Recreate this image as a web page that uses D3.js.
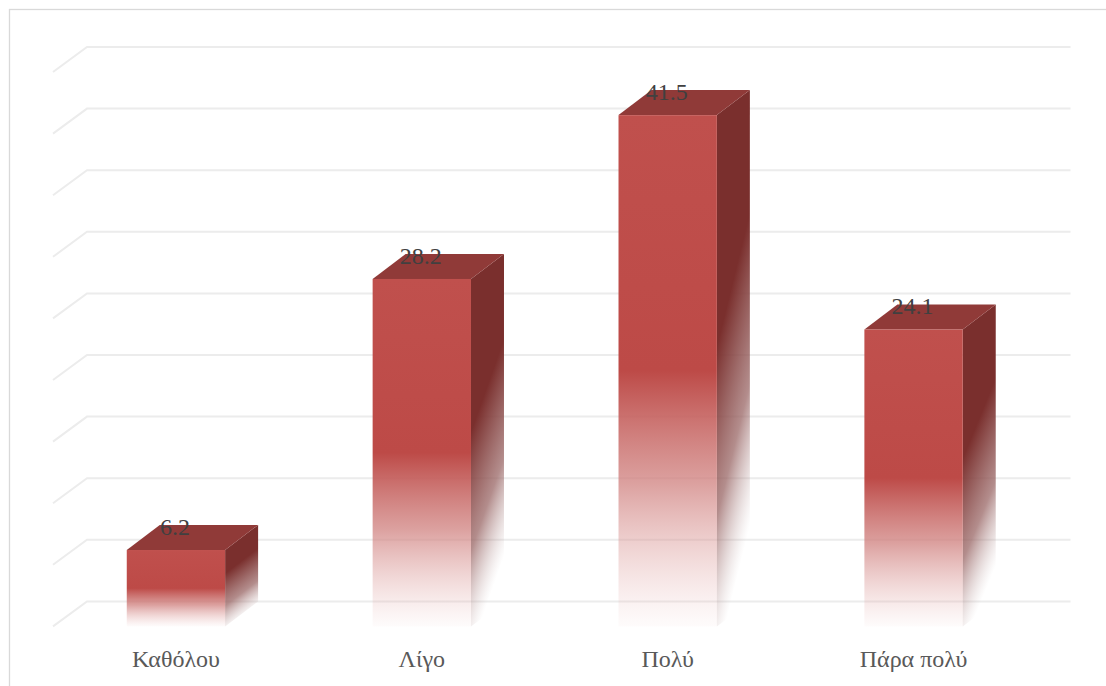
<!DOCTYPE html>
<html>
<head>
<meta charset="utf-8">
<script src="https://cdn.jsdelivr.net/npm/d3@7"></script>
<style>
  html, body { margin: 0; padding: 0; background: #fff; }
  svg { display: block; }
</style>
</head>
<body>
<svg id="chart" width="1106" height="686"></svg>
<script>
// Survey response shares (%) per answer category
const categories = ["Καθόλου", "Λίγο", "Πολύ", "Πάρα πολύ"];
const values = [6.2, 28.2, 41.5, 24.1];
const gridTicks = [0, 5, 10, 15, 20, 25, 30, 35, 40, 45];

const W = 1106, H = 686;
const depthX = 34, depthY = -25;      // 3-D depth offset of the back wall
const svg = d3.select("#chart");

const x = d3.scaleBand().domain(categories).range([53, 1036.5]).paddingInner(0.6).paddingOuter(0.3);
const y = d3.scaleLinear().domain([0, 45]).range([626.4, 72]);

// outer frame
svg.append("rect")
  .attr("x", 9.5).attr("y", 9.5)
  .attr("width", W).attr("height", H)
  .attr("fill", "none").attr("stroke", "#d9d9d9").attr("stroke-width", 1.3);

const defs = svg.append("defs");
const frontGrad = defs.append("linearGradient").attr("id", "frontGrad")
  .attr("x1", 0).attr("y1", 0).attr("x2", 0).attr("y2", 1);
[[0, "#c0504d", 1], [0.5, "#bd4a47", 1], [0.72, "#d0817f", 0.75], [1, "#e8b8b7", 0.05]]
  .forEach(([o, c, a]) => frontGrad.append("stop").attr("offset", o).attr("stop-color", c).attr("stop-opacity", a));

const sideGrad = defs.append("linearGradient").attr("id", "sideGrad")
  .attr("x1", 0).attr("y1", 0).attr("x2", 0.25).attr("y2", 1);
[[0, "#7a2f2d", 1], [0.45, "#7a2f2d", 1], [0.75, "#9a6766", 0.75], [1, "#c8b4b4", 0.0]]
  .forEach(([o, c, a]) => sideGrad.append("stop").attr("offset", o).attr("stop-color", c).attr("stop-opacity", a));

// gridlines on the back wall plus the left side wall
const grid = svg.append("g").attr("stroke", "#ececec").attr("stroke-width", 2).attr("fill", "none");
grid.selectAll("path").data(gridTicks).join("path")
  .attr("d", d => {
    const yf = y(d), x0 = x.range()[0], x1 = x.range()[1];
    return `M${x0},${yf}L${x0 + depthX},${yf + depthY}L${x1 + depthX},${yf + depthY}`;
  });

// bars
const bars = svg.append("g").selectAll("g").data(categories).join("g");
const bw = x.bandwidth();
const barDepthX = 33, barDepthY = -25;

bars.append("path") // right side face
  .attr("fill", "url(#sideGrad)")
  .attr("d", (c, i) => {
    const xr = x(c) + bw, yt = y(values[i]), yb = y(0);
    return `M${xr},${yt}L${xr + barDepthX},${yt + barDepthY}L${xr + barDepthX},${yb + barDepthY}L${xr},${yb}Z`;
  });

bars.append("path") // top face
  .attr("fill", "#903a38")
  .attr("d", (c, i) => {
    const xl = x(c), yt = y(values[i]);
    return `M${xl},${yt}L${xl + barDepthX},${yt + barDepthY}L${xl + bw + barDepthX},${yt + barDepthY}L${xl + bw},${yt}Z`;
  });

bars.append("rect") // front face
  .attr("x", c => x(c))
  .attr("y", (c, i) => y(values[i]))
  .attr("width", bw)
  .attr("height", (c, i) => y(0) - y(values[i]))
  .attr("fill", "url(#frontGrad)");

// value labels
bars.append("text")
  .attr("x", c => x(c) + bw / 2 - 1)
  .attr("y", (c, i) => y(values[i]) - 15)
  .attr("text-anchor", "middle")
  .attr("font-family", "'Liberation Serif', 'DejaVu Serif', serif")
  .attr("font-size", 24)
  .attr("fill", "#404040")
  .text((c, i) => values[i].toFixed(1));

// category axis labels
const xAxis = d3.axisBottom(x).tickSize(0).tickPadding(0);
const axisG = svg.append("g").attr("transform", "translate(0,650)").call(xAxis);
axisG.select(".domain").remove();
axisG.selectAll("text")
  .attr("dy", "0.71em")
  .attr("y", 0)
  .attr("font-family", "'Liberation Serif', 'DejaVu Serif', serif")
  .attr("font-size", 24)
  .attr("fill", "#595959");
</script>
</body>
</html>
